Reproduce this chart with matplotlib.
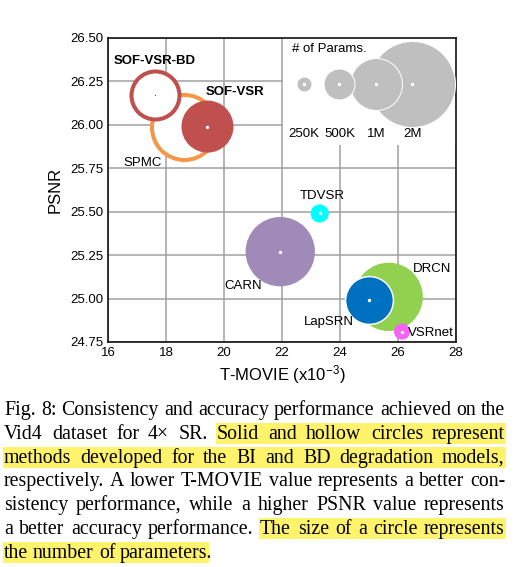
import numpy as np
import matplotlib
matplotlib.use('Agg')
import matplotlib.pyplot as plt
from matplotlib.patches import Rectangle
from matplotlib.transforms import IdentityTransform

# bubble data (T-MOVIE x1e-3, PSNR, params in K)
methods = ['SPMC', 'SOF-VSR-BD', 'SOF-VSR', 'TDVSR', 'CARN', 'DRCN', 'LapSRN', 'VSRnet']
tmovie = [18.62, 17.63, 19.43, 23.30, 21.94, 25.68, 25.00, 26.14]
psnr = [25.99, 26.17, 25.99, 25.49, 25.27, 25.01, 24.99, 24.81]
params_k = [1500, 1000, 1000, 300, 1510, 1480, 900, 266]

legend_params = [250, 500, 1000, 2000]
legend_labels = ['250K', '500K', '1M', '2M']

xticks = [16, 18, 20, 22, 24, 26, 28]
yticks = [24.75, 25.00, 25.25, 25.50, 25.75, 26.00, 26.25, 26.50]

caption = [
    "Fig. 8: Consistency and accuracy performance achieved on the",
    "Vid4 dataset for 4\u00d7 SR. Solid and hollow circles represent",
    "methods developed for the BI and BD degradation models,",
    "respectively. A lower T-MOVIE value represents a better con-",
    "sistency performance, while a higher PSNR value represents",
    "a better accuracy performance. The size of a circle represents",
    "the number of parameters.",
]
highlights = [(1, "Solid and hollow circles represent"),
              (2, "methods developed for the BI and BD degradation models,"),
              (5, "The size of a circle represents"),
              (6, "the number of parameters")]

# styling
DPI = 100
W, H = 515, 567
PT = 72.0 / DPI
size_radius_px = [7.5, 15.5, 26, 43]   # bubble radius scale for the legend params
style = {
    'SPMC':       dict(color='#f79646', hollow=True, dot=None),
    'SOF-VSR-BD': dict(color='#c0504d', hollow=True, dot='#ff0000'),
    'SOF-VSR':    dict(color='#c0504d', hollow=False, dot='white'),
    'TDVSR':      dict(color='#00ffff', hollow=False, dot='white'),
    'CARN':       dict(color='#a08ab8', hollow=False, dot='white'),
    'DRCN':       dict(color='#92d050', hollow=False, dot=None),
    'LapSRN':     dict(color='#0070c0', hollow=False, dot='white', edge='white'),
    'VSRnet':     dict(color='#f862f5', hollow=False, dot='white'),
}
label_off = {  # pixel offsets of label left/center from bubble centre
    'SOF-VSR-BD': (-42, 34), 'SOF-VSR': (-2, 35), 'SPMC': (-61, -36),
    'TDVSR': (-20, 17), 'CARN': (-56, -34), 'DRCN': (24, 28),
    'LapSRN': (-65, -22), 'VSRnet': (6, -1),
}
bold = {'SOF-VSR-BD', 'SOF-VSR'}

plt.rcParams['font.family'] = ['Liberation Sans', 'DejaVu Sans']
plt.rcParams['mathtext.fontset'] = 'custom'
plt.rcParams['mathtext.rm'] = 'Liberation Sans'
plt.rcParams['mathtext.default'] = 'regular'


def radius_px(p):
    return np.interp(p, legend_params, size_radius_px)


def msize(r):
    return (2 * r * PT) ** 2


fig = plt.figure(figsize=(W / DPI, H / DPI), dpi=DPI)
ax = fig.add_axes([108 / W, (H - 342) / H, 348 / W, 304 / H])
ax.set_xlim(16, 28)
ax.set_ylim(24.75, 26.5)
ax.set_xticks(xticks)
ax.set_yticks(yticks)
ax.set_yticklabels(['%.2f' % v for v in yticks])
ax.tick_params(length=0, labelsize=9.5, pad=3.4)
ax.set_axisbelow(True)
ax.grid(True, color='#a0a0a0', lw=1.1)
for s in ax.spines.values():
    s.set_linewidth(1.2)
    s.set_color('#111111')
ax.set_xlabel('T-MOVIE (x10$^{-3}$)', fontsize=12, labelpad=3.0)
ax.set_ylabel('PSNR', fontsize=12, labelpad=5.5)

# white box behind the size legend
ax.add_patch(Rectangle((0.502, 0.647), 0.498, 0.353, transform=ax.transAxes,
                       facecolor='white', edgecolor='none', zorder=1))

z = 2
for m, x, y, p in zip(methods, tmovie, psnr, params_k):
    st = style[m]
    r = radius_px(p)
    if st['hollow']:
        lw = 4.0
        ax.scatter([x], [y], s=msize(r - lw / 2), facecolor='white',
                   edgecolor=st['color'], linewidth=lw * PT, zorder=z)
    else:
        ax.scatter([x], [y], s=msize(r), facecolor=st['color'],
                   edgecolor=st.get('edge', 'none'), linewidth=1.5 * PT, zorder=z)
    if st['dot'] is not None:
        dr = 1.7 if st['dot'] == 'white' else 0.6
        ax.scatter([x], [y], s=msize(dr), color=st['dot'], linewidth=0, zorder=z + 0.5)
    dx, dy = label_off[m]
    ax.annotate(m, (x, y), xytext=(dx, dy), textcoords='offset pixels',
                ha='left', va='center', fontsize=9.5,
                fontweight='bold' if m in bold else 'normal', zorder=20)
    z += 1

# size legend
lx = [0.564, 0.665, 0.770, 0.874]
for i in [3, 2, 1, 0]:
    ax.scatter([lx[i]], [0.848], s=msize(radius_px(legend_params[i])),
               facecolor='#bfbfbf', edgecolor='white', linewidth=1.0 * PT,
               transform=ax.transAxes, zorder=30 - i)
    ax.scatter([lx[i]], [0.848], s=msize(1.7), color='white', linewidth=0,
               transform=ax.transAxes, zorder=31)
    ax.text(lx[i], 0.683, legend_labels[i], transform=ax.transAxes,
            ha='center', va='center', fontsize=9.5, zorder=31)
ax.text(0.530, 0.965, '# of Params.', transform=ax.transAxes,
        ha='left', va='center', fontsize=9.5, zorder=31)

# caption, justified by hand
renderer = fig.canvas.get_renderer()
cap_font = dict(family=['Liberation Serif', 'DejaVu Serif'], fontsize=14.3)


def text_w(s):
    t = fig.text(0, 0, s, **cap_font)
    w = t.get_window_extent(renderer).width
    t.remove()
    return w


space_w = text_w('a a') - text_w('aa')
left, right = 4, 505
base0, step = 415, 23.8
ident = IdentityTransform()

for li, line in enumerate(caption):
    words = line.split(' ')
    widths = [text_w(w) for w in words]
    if li < len(caption) - 1:
        gap = (right - left - sum(widths)) / (len(words) - 1)
    else:
        gap = space_w
    xs = []
    x = left
    for w in widths:
        xs.append(round(x))
        x += w + gap
    base = round(base0 + step * li)
    for w, x in zip(words, xs):
        fig.text(x, H - base, w, transform=ident, va='baseline', ha='left',
                 zorder=5, **cap_font)
    # char index -> x position
    starts = []
    c = 0
    for w in words:
        starts.append(c)
        c += len(w) + 1

    def char_x(ci):
        for k, (st0, w) in enumerate(zip(starts, words)):
            if st0 <= ci <= st0 + len(w):
                return xs[k] + (text_w(w[:ci - st0]) if ci > st0 else 0)
        return right

    for hl, sub in highlights:
        if hl != li:
            continue
        a = line.find(sub)
        x0 = char_x(a) - 1
        x1 = char_x(a + len(sub)) + 1
        fig.patches.append(Rectangle((x0, H - base - 5), x1 - x0, 21,
                                     transform=ident, facecolor='#fff36b',
                                     edgecolor='none', zorder=1))

fig.savefig('out.png', dpi=DPI)
